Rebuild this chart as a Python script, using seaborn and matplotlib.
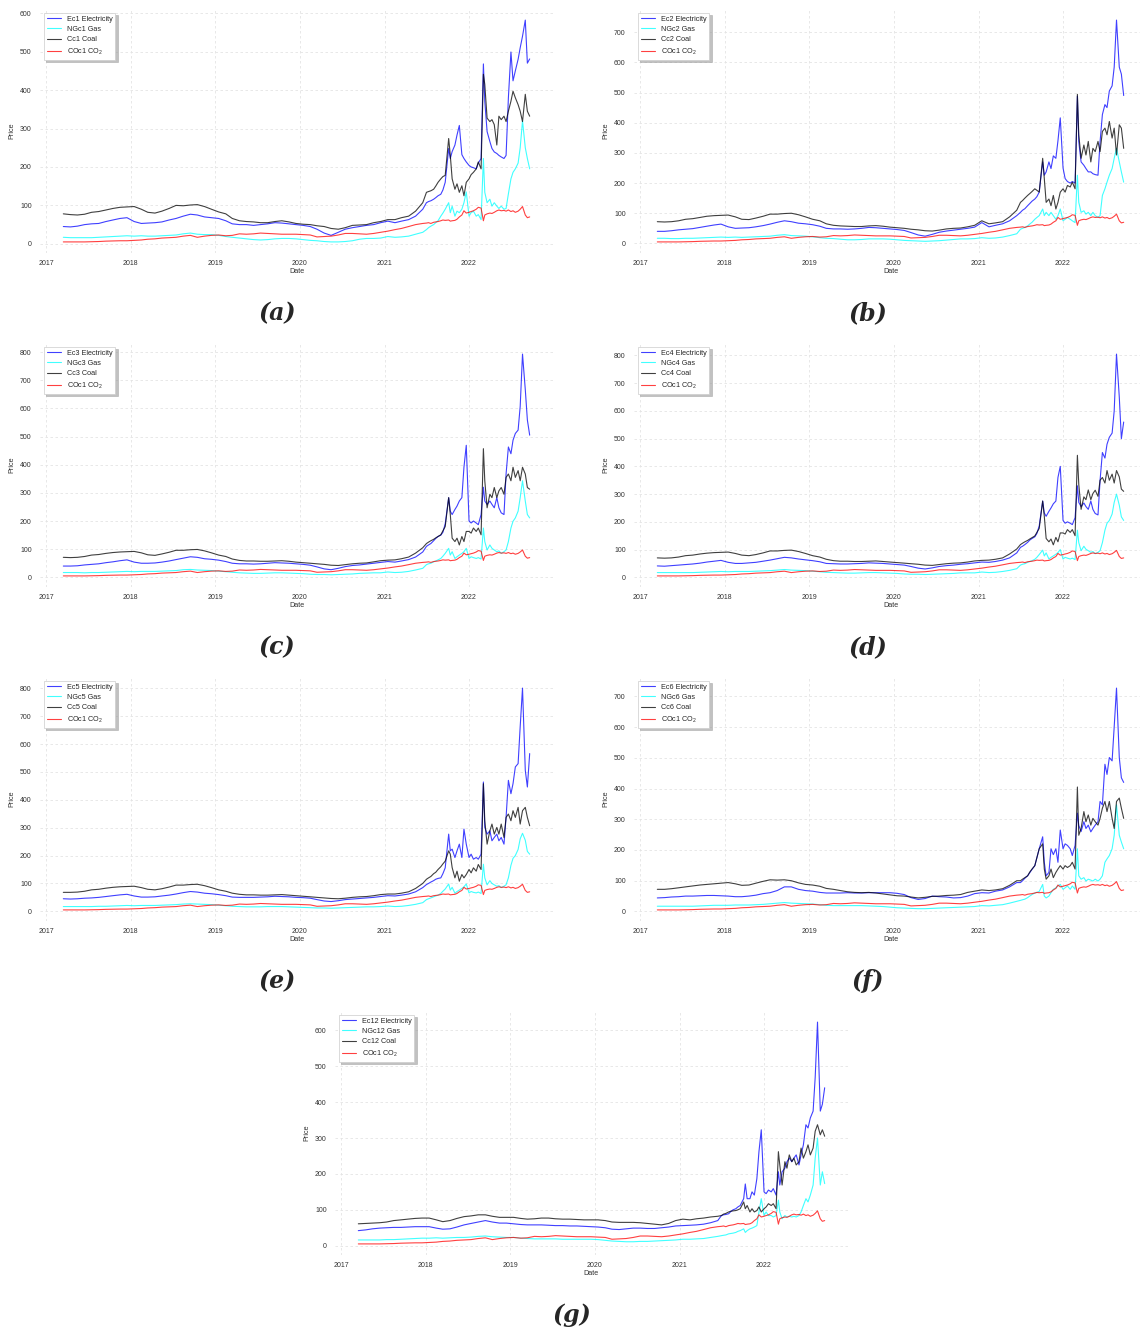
import numpy as np
import pandas as pd
import matplotlib
matplotlib.use("Agg")
import matplotlib.pyplot as plt
import matplotlib.dates as mdates
from matplotlib.ticker import MultipleLocator
import seaborn as sns

# ---------------- dates ----------------
EARLY_DATES = pd.date_range("2017-03-01", "2021-06-01", freq="MS") + pd.Timedelta(days=14)
LATE_DATES = ["2021-07-01", "2021-07-10", "2021-07-20", "2021-08-01", "2021-08-10", "2021-08-20",
              "2021-09-01", "2021-09-10", "2021-09-20", "2021-10-05", "2021-10-12", "2021-10-20",
              "2021-11-01", "2021-11-10", "2021-11-20", "2021-12-01", "2021-12-10", "2021-12-20",
              "2022-01-01", "2022-01-10", "2022-01-20", "2022-02-01", "2022-02-10", "2022-02-22",
              "2022-03-04", "2022-03-10", "2022-03-20", "2022-04-01", "2022-04-10", "2022-04-20",
              "2022-05-01", "2022-05-10", "2022-05-20", "2022-06-01", "2022-06-10", "2022-06-20",
              "2022-07-01", "2022-07-10", "2022-07-20", "2022-08-01", "2022-08-10", "2022-08-20",
              "2022-09-01", "2022-09-10", "2022-09-20"]
DATES = pd.DatetimeIndex(list(EARLY_DATES) + list(pd.to_datetime(LATE_DATES)))

# ---------------- CO2 (shared) ----------------
CO2 = [5, 5, 5, 5, 5.5, 6, 7, 7.5, 8, 8,
       9, 10, 12, 13, 15, 16, 17, 20, 22, 17, 20, 22,
       23, 21, 22, 26, 25, 26, 28, 27, 26, 25, 25, 25,
       24, 23, 18, 19, 20, 23, 27, 27, 26, 25, 27, 30,
       33, 37, 40, 45, 50, 53,
       54, 55, 53, 56, 57, 58, 60, 62, 61,
       62, 59, 60, 61, 64, 70, 75, 86, 80,
       82, 84, 86, 90, 95, 93, 60, 75, 78,
       80, 79, 82, 86, 88, 86, 87, 85, 88,
       84, 86, 82, 85, 90, 97, 75, 68, 70]

# ---------------- panel (a) ----------------
E1 = [45, 44, 46, 50, 52, 53, 58, 62, 66, 68,
      58, 53, 54, 55, 57, 62, 66, 72, 77, 75, 70, 68,
      66, 60, 52, 50, 50, 48, 50, 52, 55, 54, 52, 50,
      48, 45, 38, 28, 22, 30, 38, 42, 45, 48, 50, 55,
      59, 55, 59, 63, 72, 90,
      107, 110, 112, 116, 120, 125, 129, 140, 160,
      248, 222, 240, 257, 283, 308, 232, 222, 213,
      204, 200, 198, 195, 210, 222, 468, 371, 292,
      266, 248, 239, 235, 230, 226, 222, 230, 380,
      499, 424, 450, 480, 510, 540, 582, 470, 481]
NG1 = [17, 16, 16, 16, 16, 17, 18, 19, 20, 21,
       20, 21, 20, 20, 21, 22, 23, 26, 28, 25, 24, 24,
       22, 19, 17, 15, 13, 11, 10, 11, 13, 14, 14, 13,
       11, 9, 8, 6, 5, 5, 6, 8, 12, 14, 14, 15,
       19, 17, 18, 20, 25, 30,
       37, 42, 46, 50, 55, 60, 72, 80, 90,
       107, 81, 98, 72, 85, 81, 90, 107, 135,
       72, 81, 85, 72, 76, 63, 222, 134, 107,
       116, 98, 107, 98, 92, 98, 90, 92, 130,
       169, 186, 195, 210, 250, 320, 250, 222, 195]
C1 = [78, 76, 75, 77, 82, 84, 88, 92, 95, 96,
      97, 90, 82, 80, 85, 92, 100, 99, 101, 102, 97, 90,
      83, 78, 66, 60, 58, 57, 55, 55, 58, 60, 57, 53,
      51, 50, 47, 45, 40, 38, 42, 48, 49, 50, 55, 58,
      63, 63, 68, 72, 85, 107,
      134, 136, 138, 142, 150, 160, 169, 175, 178,
      274, 230, 169, 142, 156, 134, 151, 125, 160,
      169, 180, 186, 195, 213, 195, 441, 415, 327,
      318, 323, 310, 257, 332, 323, 332, 318, 345,
      371, 397, 380, 362, 345, 318, 389, 345, 332]

# ---------------- panel (b) ----------------
E2 = [40, 40, 42, 45, 47, 49, 53, 57, 61, 64,
      55, 50, 51, 52, 55, 59, 64, 70, 75, 72, 67, 65,
      62, 57, 50, 48, 48, 47, 48, 50, 53, 52, 50, 48,
      46, 43, 36, 28, 24, 30, 37, 41, 44, 47, 50, 54,
      69, 55, 60, 65, 75, 92,
      103, 110, 115, 125, 132, 140, 147, 155, 170,
      270, 226, 237, 270, 248, 290, 282, 340, 416,
      250, 215, 205, 200, 205, 200, 488, 337, 270,
      259, 248, 237, 237, 231, 228, 226, 337, 427,
      460, 450, 505, 522, 584, 740, 584, 561, 490]
NG2 = [17, 17, 16, 16, 17, 17, 18, 19, 20, 21,
       20, 21, 20, 21, 22, 23, 24, 27, 29, 26, 25, 24,
       22, 19, 17, 16, 14, 12, 12, 13, 15, 15, 15, 14,
       12, 10, 9, 8, 7, 8, 9, 11, 13, 15, 15, 16,
       19, 17, 18, 21, 26, 32,
       47, 50, 53, 58, 64, 70, 80, 86, 92,
       114, 92, 103, 92, 103, 92, 80, 92, 114,
       75, 80, 86, 80, 75, 69, 226, 136, 103,
       108, 97, 103, 92, 103, 92, 86, 92, 159,
       181, 203, 226, 248, 282, 315, 270, 237, 203]
C2 = [72, 71, 72, 75, 80, 82, 86, 90, 92, 93,
      94, 88, 80, 79, 84, 90, 97, 97, 99, 100, 95, 88,
      80, 75, 65, 60, 58, 57, 56, 56, 58, 59, 57, 54,
      52, 50, 47, 45, 42, 41, 44, 48, 50, 51, 55, 60,
      75, 65, 68, 72, 88, 110,
      136, 142, 150, 159, 165, 172, 181, 176, 170,
      282, 215, 136, 147, 125, 159, 114, 136, 170,
      181, 170, 192, 187, 203, 181, 494, 360, 282,
      326, 293, 338, 270, 315, 304, 338, 304, 371,
      382, 360, 404, 349, 382, 293, 393, 382, 315]

# ---------------- panel (c) ----------------
E3 = [40, 40, 41, 44, 46, 48, 52, 55, 59, 62,
      54, 50, 50, 51, 54, 58, 63, 68, 73, 71, 66, 64,
      61, 56, 50, 48, 48, 47, 48, 50, 52, 51, 50, 48,
      46, 43, 37, 30, 27, 32, 38, 42, 44, 47, 50, 53,
      56, 54, 58, 63, 72, 90,
      110, 115, 120, 130, 138, 145, 150, 160, 190,
      283, 235, 223, 241, 253, 271, 283, 391, 469,
      200, 193, 200, 193, 187, 223, 320, 271, 259,
      271, 259, 247, 283, 247, 229, 223, 367, 463,
      439, 487, 511, 523, 607, 793, 667, 559, 505]
NG3 = [17, 17, 17, 16, 17, 17, 18, 19, 20, 21,
       20, 21, 21, 21, 22, 23, 24, 27, 28, 26, 25, 24,
       22, 20, 18, 16, 15, 14, 14, 15, 16, 16, 15, 14,
       13, 11, 10, 10, 9, 10, 11, 12, 14, 15, 16, 16,
       19, 17, 18, 21, 26, 32,
       45, 48, 50, 55, 58, 62, 67, 75, 85,
       103, 79, 91, 67, 73, 79, 85, 91, 103,
       67, 73, 70, 67, 70, 65, 175, 127, 97,
       115, 103, 97, 91, 94, 85, 91, 97, 127,
       175, 199, 211, 235, 283, 343, 271, 223, 211]
C3 = [71, 70, 71, 74, 79, 81, 85, 88, 90, 91,
      92, 87, 80, 78, 83, 89, 96, 96, 98, 99, 94, 87,
      79, 74, 65, 60, 58, 58, 57, 57, 58, 59, 57, 54,
      52, 50, 48, 46, 43, 42, 45, 48, 50, 51, 55, 59,
      61, 62, 66, 72, 86, 105,
      120, 125, 130, 135, 140, 145, 151, 165, 180,
      283, 223, 139, 127, 139, 115, 145, 127, 163,
      163, 157, 175, 163, 175, 151, 457, 343, 247,
      295, 283, 319, 283, 307, 319, 295, 355, 367,
      343, 391, 355, 379, 343, 391, 367, 319, 313]

# ---------------- panel (d) ----------------
E4 = [41, 40, 42, 44, 46, 48, 51, 55, 58, 61,
      54, 50, 50, 52, 54, 58, 62, 67, 72, 70, 66, 63,
      60, 56, 50, 49, 48, 48, 49, 50, 52, 51, 50, 48,
      46, 44, 39, 33, 30, 34, 39, 42, 44, 47, 49, 52,
      55, 54, 57, 62, 70, 88,
      108, 112, 118, 126, 134, 140, 146, 158, 185,
      275, 232, 220, 238, 250, 265, 275, 360, 400,
      205, 195, 200, 195, 190, 215, 330, 270, 255,
      268, 255, 245, 275, 245, 230, 225, 350, 450,
      430, 480, 505, 520, 600, 805, 650, 500, 560]
NG4 = [17, 17, 17, 17, 17, 17, 18, 19, 20, 21,
       20, 21, 21, 21, 22, 23, 24, 26, 28, 26, 25, 24,
       22, 20, 18, 17, 16, 15, 15, 16, 17, 17, 16, 15,
       14, 12, 11, 11, 10, 11, 12, 13, 14, 16, 16, 16,
       19, 17, 18, 21, 25, 31,
       44, 47, 49, 54, 57, 60, 65, 72, 82,
       98, 77, 88, 66, 72, 77, 83, 89, 100,
       66, 72, 69, 66, 69, 64, 170, 125, 96,
       112, 101, 96, 90, 93, 85, 90, 96, 125,
       170, 195, 205, 228, 270, 300, 260, 218, 205]
C4 = [70, 69, 70, 73, 78, 80, 84, 87, 89, 90,
      91, 86, 80, 78, 82, 88, 95, 95, 97, 98, 93, 86,
      78, 73, 65, 60, 58, 58, 57, 57, 58, 59, 57, 55,
      53, 51, 49, 47, 44, 43, 46, 49, 51, 52, 55, 59,
      61, 62, 65, 70, 84, 102,
      118, 123, 128, 133, 138, 143, 149, 162, 176,
      275, 220, 140, 128, 138, 117, 144, 128, 160,
      160, 156, 172, 162, 172, 150, 440, 335, 245,
      290, 280, 315, 280, 302, 314, 292, 350, 360,
      340, 385, 350, 372, 340, 385, 362, 318, 310]

# ---------------- panel (e) ----------------
E5 = [45, 44, 45, 47, 48, 50, 53, 56, 59, 61,
      55, 51, 51, 52, 55, 58, 62, 67, 71, 69, 65, 63,
      60, 56, 51, 50, 50, 50, 51, 52, 54, 53, 52, 50,
      49, 47, 42, 37, 35, 38, 42, 44, 46, 48, 50, 53,
      56, 55, 58, 62, 70, 85,
      96, 100, 105, 110, 115, 118, 120, 135, 156,
      277, 217, 223, 193, 217, 241, 193, 295, 241,
      193, 205, 187, 193, 187, 205, 464, 301, 277,
      289, 253, 265, 277, 253, 265, 241, 337, 470,
      422, 458, 518, 530, 663, 801, 506, 446, 566]
NG5 = [17, 17, 17, 17, 17, 18, 18, 19, 20, 21,
       20, 21, 21, 21, 22, 23, 24, 26, 27, 26, 25, 24,
       22, 20, 18, 17, 16, 16, 16, 17, 17, 17, 16, 15,
       14, 13, 12, 12, 11, 12, 13, 14, 15, 16, 16, 17,
       19, 17, 18, 21, 25, 31,
       42, 45, 48, 52, 55, 58, 64, 72, 80,
       98, 76, 86, 65, 71, 76, 82, 88, 98,
       66, 71, 68, 66, 69, 64, 169, 120, 95,
       110, 100, 95, 90, 92, 85, 90, 95, 120,
       165, 190, 200, 222, 260, 280, 255, 215, 205]
C5 = [68, 68, 69, 72, 77, 79, 83, 86, 88, 89,
      90, 85, 79, 77, 81, 87, 94, 94, 96, 97, 92, 85,
      77, 72, 65, 61, 59, 59, 58, 58, 59, 60, 58, 56,
      54, 52, 50, 48, 46, 45, 47, 50, 52, 53, 56, 60,
      62, 62, 65, 70, 82, 100,
      115, 120, 125, 135, 140, 150, 160, 170, 180,
      217, 205, 157, 120, 144, 108, 132, 120, 132,
      150, 138, 156, 144, 168, 150, 458, 325, 241,
      289, 313, 277, 301, 277, 313, 265, 337, 349,
      325, 361, 337, 373, 313, 361, 373, 337, 307]

# ---------------- panel (f) ----------------
E6 = [44, 45, 47, 48, 50, 50, 51, 52, 52, 51,
      50, 48, 48, 50, 53, 58, 61, 68, 80, 80, 72, 68,
      66, 62, 60, 60, 60, 61, 60, 60, 61, 61, 61, 61,
      59, 55, 45, 39, 42, 50, 48, 47, 44, 45, 50, 58,
      61, 60, 66, 70, 80, 94,
      94, 100, 108, 116, 126, 137, 149, 175, 204,
      243, 160, 116, 127, 204, 185, 204, 160, 265,
      204, 220, 215, 204, 182, 215, 320, 280, 260,
      292, 270, 281, 259, 270, 281, 292, 358, 347,
      479, 446, 501, 490, 601, 727, 501, 435, 420]
NG6 = [17, 17, 17, 17, 17, 17, 18, 19, 20, 20,
       20, 21, 21, 21, 22, 23, 25, 27, 29, 27, 26, 25,
       24, 22, 20, 19, 19, 19, 19, 19, 18, 17, 16, 14,
       12, 11, 10, 9, 9, 10, 11, 12, 13, 14, 15, 16,
       19, 18, 20, 22, 27, 33,
       36, 38, 40, 45, 50, 55, 60, 62, 65,
       88, 50, 44, 50, 61, 72, 77, 83, 88,
       72, 77, 83, 72, 83, 72, 204, 116, 105,
       110, 99, 105, 102, 99, 105, 99, 105, 116,
       160, 171, 182, 204, 248, 347, 248, 226, 204]
C6 = [72, 72, 74, 77, 80, 83, 86, 88, 90, 92,
      94, 90, 85, 86, 92, 98, 103, 102, 103, 100, 93, 88,
      86, 82, 75, 72, 68, 64, 62, 61, 62, 60, 57, 54,
      51, 50, 47, 44, 46, 49, 50, 52, 53, 55, 62, 66,
      70, 68, 70, 74, 85, 100,
      100, 105, 110, 116, 128, 138, 149, 175, 204,
      220, 138, 105, 116, 138, 110, 127, 138, 149,
      138, 149, 143, 149, 160, 138, 405, 248, 270,
      325, 292, 314, 281, 303, 292, 281, 303, 336,
      358, 325, 358, 303, 270, 358, 369, 336, 303]

# ---------------- panel (g) ----------------
E12 = [42, 44, 47, 49, 50, 51, 51, 52, 53, 53,
       53, 49, 46, 47, 52, 58, 62, 66, 70, 66, 63, 63,
       61, 59, 58, 58, 58, 57, 56, 56, 55, 55, 54, 53,
       52, 50, 46, 45, 47, 49, 49, 48, 48, 50, 52, 55,
       56, 57, 58, 60, 64, 70,
       84, 86, 87, 89, 95, 100, 103, 108, 112,
       131, 172, 131, 131, 150, 141, 187, 262, 323,
       150, 145, 155, 150, 159, 141, 206, 169, 206,
       216, 234, 244, 234, 244, 253, 225, 253, 281,
       337, 328, 356, 375, 469, 623, 375, 394, 440]
NG12 = [16, 16, 16, 16, 17, 17, 18, 19, 20, 21,
        21, 22, 21, 22, 23, 23, 24, 26, 27, 25, 24, 23,
        23, 21, 20, 19, 19, 19, 19, 18, 18, 18, 18, 18,
        17, 15, 13, 12, 11, 11, 12, 12, 13, 14, 15, 16,
        18, 18, 19, 20, 23, 26,
        28, 29, 30, 33, 34, 35, 37, 40, 42,
        47, 37, 42, 47, 49, 52, 56, 94, 131,
        84, 94, 84, 84, 80, 84, 127, 94, 75,
        84, 80, 82, 80, 82, 80, 84, 94, 112,
        131, 122, 141, 169, 244, 300, 169, 206, 173]
C12 = [61, 62, 63, 64, 66, 70, 72, 74, 76, 77,
       77, 72, 67, 70, 76, 81, 83, 86, 86, 82, 79, 79,
       79, 76, 74, 75, 77, 77, 75, 74, 74, 73, 72, 72,
       72, 70, 66, 65, 65, 65, 64, 62, 60, 58, 62, 70,
       74, 72, 75, 77, 80, 82,
       84, 88, 90, 94, 96, 97, 98, 100, 103,
       122, 103, 112, 94, 103, 94, 98, 108, 94,
       103, 108, 117, 112, 117, 103, 262, 225, 169,
       234, 216, 253, 234, 244, 225, 234, 272, 244,
       262, 281, 253, 272, 319, 337, 309, 323, 305]

PANELS = [
    ("(a)", "1", E1, NG1, C1),
    ("(b)", "2", E2, NG2, C2),
    ("(c)", "3", E3, NG3, C3),
    ("(d)", "4", E4, NG4, C4),
    ("(e)", "5", E5, NG5, C5),
    ("(f)", "6", E6, NG6, C6),
    ("(g)", "12", E12, NG12, C12),
]

# ---------------- style ----------------
sns.set_style("whitegrid")
plt.rcParams["font.family"] = ["Liberation Sans", "DejaVu Sans"]
plt.rcParams["mathtext.fontset"] = "custom"
plt.rcParams["mathtext.rm"] = "Liberation Sans"
plt.rcParams["mathtext.it"] = "Liberation Sans:italic"

W, H = 1140, 1334
fig = plt.figure(figsize=(W / 100, H / 100), dpi=100)

# layout in pixels: (axes left, row index, caption centre x)
LAYOUT = [(40, 0, 277), (634, 0, 868), (40, 1, 277), (634, 1, 868),
          (40, 2, 277), (634, 2, 868), (335, 3, 572)]
AX_W, AX_H, ROW = 513, 244, 334

for (cap, idx, e, g, c), (lx, row, cx) in zip(PANELS, LAYOUT):
    for nm, arr in (("E", e), ("NG", g), ("C", c)):
        if len(arr) != len(DATES):
            raise ValueError(f"{cap} {nm} has {len(arr)} values, expected {len(DATES)}")
    top = 9 + ROW * row
    ax = fig.add_axes([lx / W, 1 - (top + AX_H) / H, AX_W / W, AX_H / H])
    kw = dict(ax=ax, linewidth=0.8, alpha=0.75, estimator=None)
    sns.lineplot(x=DATES, y=e, color="blue", label=f"Ec{idx} Electricity", **kw)
    sns.lineplot(x=DATES, y=g, color="cyan", label=f"NGc{idx} Gas", **kw)
    sns.lineplot(x=DATES, y=c, color="black", label=f"Cc{idx} Coal", **kw)
    sns.lineplot(x=DATES, y=CO2, color="red", label="COc1 CO$_2$", **kw)

    ax.xaxis.set_major_locator(mdates.YearLocator())
    ax.xaxis.set_major_formatter(mdates.DateFormatter("%Y"))
    ax.yaxis.set_major_locator(MultipleLocator(100))
    ax.grid(True, linestyle=(0, (3, 3)), color="#e4e4e4", linewidth=0.6)
    for sp in ax.spines.values():
        sp.set_visible(False)
    ax.tick_params(axis="both", labelsize=5.0, colors="#333333", length=0)
    ax.tick_params(axis="y", pad=6)
    ax.tick_params(axis="x", pad=5)
    ax.set_xlabel("Date", fontsize=5.2, color="#333333", labelpad=1)
    ax.set_ylabel("Price", fontsize=5.2, color="#333333", labelpad=3)
    leg = ax.legend(loc="upper left", fontsize=5.2, frameon=True,
                    shadow={"color": "#999999", "alpha": 0.6},
                    fancybox=False, framealpha=1, edgecolor="#cccccc",
                    borderaxespad=0.5, labelspacing=0.45)
    leg.get_frame().set_linewidth(0.5)

    fig.text(cx / W, 1 - (313 + ROW * row) / H, cap, fontsize=17,
             fontstyle="italic", fontweight="bold", family="DejaVu Serif",
             ha="center", va="center")

fig.savefig("out.png", dpi=100)
